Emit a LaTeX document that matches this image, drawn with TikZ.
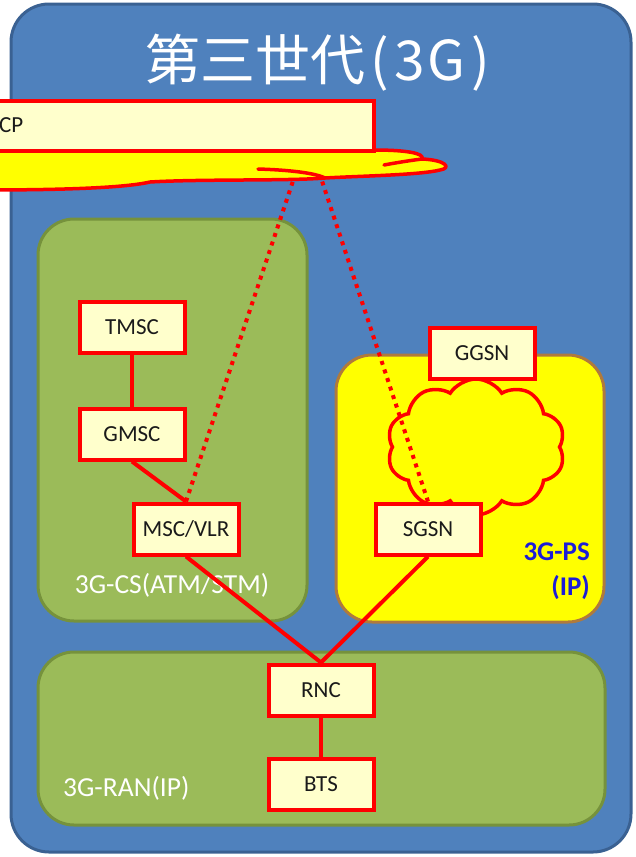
\documentclass[tikz,border=0pt]{standalone}
\usepackage{fontspec}
\setmainfont{Carlito}
\newfontfamily\jpfont{Noto Sans CJK JP}
\usetikzlibrary{shapes.symbols}

\definecolor{panelblue}{HTML}{4F81BD}
\definecolor{paneledge}{HTML}{3A6192}
\definecolor{zonegreen}{HTML}{9BBB59}
\definecolor{zoneedge}{HTML}{76923C}
\definecolor{pszone}{HTML}{FFFF00}
\definecolor{psedge}{HTML}{B07A3C}
\definecolor{netred}{HTML}{FF0000}
\definecolor{boxfill}{HTML}{FFFFCC}
\definecolor{textdark}{HTML}{1A1A1A}
\definecolor{psblue}{HTML}{1C1CD8}

\begin{document}
\begin{tikzpicture}[x=1pt,y=-1pt,
  unit/.style={draw=netred, line width=4pt, fill=boxfill, minimum width=105pt,
    minimum height=51pt, inner sep=0pt, text=textdark,
    font=\fontsize{23}{26}\selectfont},
  link/.style={draw=netred, line width=4pt},
  sig/.style={draw=netred, line width=4pt, dash pattern=on 4pt off 5pt},
  zone/.style={rounded corners=36pt, line width=3pt},
  zonelabel/.style={text=white, font=\fontsize{27.5}{30}\selectfont, inner sep=0pt, anchor=base},
  pslabelstyle/.style={text=psblue, font=\bfseries\fontsize{27}{30}\selectfont, inner sep=0pt, anchor=base east}]

\clip (0,0) rectangle (636,857);

% outer panel and heading
\draw[zone, fill=panelblue, draw=paneledge, rounded corners=38pt] (11,4) rectangle (631,852);
\node[text=white, font=\jpfont\fontsize{55}{60}\selectfont, inner sep=0pt] (title) at (318,63)
  {第三世代\kern5pt(\kern5pt3\kern3ptG\kern6pt)};

% domains
\draw[zone, fill=zonegreen, draw=zoneedge] (38,219) rectangle (307,621);
\draw[zone, fill=pszone, draw=psedge] (336,355) rectangle (604,622);
\draw[zone, fill=zonegreen, draw=zoneedge] (38,652) rectangle (605,825);

% IP backbone cloud in the PS domain
\node[cloud, cloud puffs=10, cloud puff arc=115, aspect=1.3, draw=netred, fill=pszone,
  line width=3.5pt, minimum width=178pt, minimum height=136pt, inner sep=0pt]
  (ipcloud) at (476,447) {};

% domain labels
\node[zonelabel] (cslabel) at (172,593) {3G-CS(ATM/STM)};
\node[zonelabel, anchor=base west] (ranlabel) at (63,796) {3G-RAN(IP)};
\node[pslabelstyle] (pslabel) at (590,560) {3G-PS};
\node[pslabelstyle] (iplabel) at (590,595) {(IP)};

% network elements
\node[unit] (tmsc) at (132,327) {TMSC};
\node[unit] (gmsc) at (132,434) {GMSC};
\node[unit] (msc)  at (186,529) {MSC/VLR};
\node[unit] (ggsn) at (482,353) {GGSN};
\node[unit] (sgsn) at (428,529) {SGSN};
\node[unit] (rnc)  at (321,690) {RNC};
\node[unit] (bts)  at (321,784) {BTS};

% signalling cloud attachment points
\coordinate (sigA) at (293,181);
\coordinate (sigB) at (322,181);

% bearer links
\draw[link] (tmsc.south) -- (gmsc.north);
\draw[link] (gmsc.south) -- (msc.north);
\draw[link] (msc.south) -- (rnc.north);
\draw[link] (sgsn.south) -- (rnc.north);
\draw[link] (rnc.south) -- (bts.north);

% signalling links
\draw[sig] (msc.north) -- (sigA);
\draw[sig] (sgsn.north) -- (sigB);

% redraw element boxes over the link ends
\node[unit] at (msc) {MSC/VLR};
\node[unit] at (sgsn) {SGSN};
\node[unit] at (rnc) {RNC};

% signalling network cloud
\filldraw[draw=netred, fill=pszone, line width=3.5pt, line join=round]
  (-20,150) -- (374,150)
  .. controls (405,150) and (425,153) .. (422,159)
  .. controls (446,160) and (452,168) .. (440,170)
  .. controls (420,175) and (360,176) .. (325,178)
  .. controls (290,181) and (200,179) .. (150,182)
  .. controls (120,189) and (40,190) .. (-20,190) -- cycle;
\draw[netred, line width=3.5pt, line cap=round] (384,165) .. controls (400,162) and (414,160) .. (422,159);
\draw[netred, line width=3.5pt, line cap=round] (258,169) .. controls (290,170) and (315,173) .. (325,178);

% signalling point box
\node[unit, minimum width=430pt, minimum height=50pt, anchor=north west] (cpbox) at (-58,99) {};
\node[text=textdark, font=\fontsize{23}{26}\selectfont, anchor=west, inner sep=0pt] (cptext) at (-1,125) {CP};
\end{tikzpicture}
\end{document}
